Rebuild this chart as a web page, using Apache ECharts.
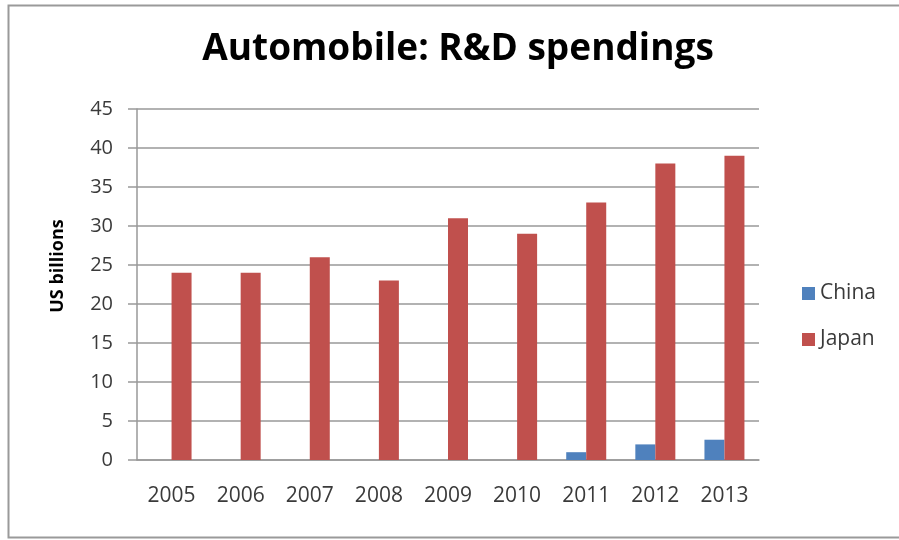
<!DOCTYPE html>
<html>
<head>
<meta charset="utf-8">
<script src="https://cdn.jsdelivr.net/npm/echarts@6/dist/echarts.min.js"></script>
<style>
  html, body { margin: 0; padding: 0; background: #fff; }
  #chart { width: 899px; height: 540px; }
</style>
</head>
<body>
<div id="chart"></div>
<script>
// Automobile R&D spending, US billions
const years = ['2005', '2006', '2007', '2008', '2009', '2010', '2011', '2012', '2013'];
const china = [0, 0, 0, 0, 0, 0, 1, 2, 2.6];
const japan = [24, 24, 26, 23, 31, 29, 33, 38, 39];
const yTicks = { min: 0, max: 45, step: 5 };

const font = 'Open Sans';
const labelColor = '#3a3a3a';
const chart = echarts.init(document.getElementById('chart'));

chart.setOption({
  animation: false,
  backgroundColor: '#fff',
  title: {
    text: 'Automobile: R&D spendings',
    left: 453,
    textAlign: 'center',
    top: 26,
    textStyle: { fontFamily: font, fontSize: 37, fontWeight: 'bold', color: '#000' }
  },
  grid: { left: 137, top: 109, width: 622, height: 351 },
  legend: {
    orient: 'vertical',
    left: 797,
    top: 278,
    itemWidth: 13,
    itemHeight: 13,
    itemGap: 25,
    icon: 'rect',
    textStyle: { fontFamily: font, fontSize: 21, color: labelColor },
    data: ['China', 'Japan']
  },
  xAxis: {
    type: 'category',
    data: years,
    axisLine: { lineStyle: { color: '#999', width: 1.5 } },
    axisTick: { show: false },
    axisLabel: { fontFamily: font, fontSize: 21, color: labelColor, margin: 26 }
  },
  yAxis: {
    type: 'value',
    min: yTicks.min,
    max: yTicks.max,
    interval: yTicks.step,
    axisLine: { show: true, lineStyle: { color: '#999', width: 1.5 } },
    axisTick: { show: true, length: 9, lineStyle: { color: '#999', width: 1.5 } },
    splitLine: { lineStyle: { color: '#999', width: 1.5 } },
    axisLabel: { fontFamily: font, fontSize: 20, color: labelColor, margin: 24 }
  },
  graphic: [
    {
      type: 'rect',
      shape: { x: 8.5, y: 5.5, width: 900, height: 532 },
      style: { fill: 'none', stroke: '#9a9a9a', lineWidth: 2 },
      silent: true
    },
    {
      type: 'text',
      x: 58,
      y: 266,
      rotation: Math.PI / 2,
      style: {
        text: 'US billions',
        fontFamily: font,
        fontSize: 18,
        fontWeight: 'bold',
        fill: '#000',
        textAlign: 'center',
        textVerticalAlign: 'middle'
      }
    }
  ],
  series: [
    {
      name: 'China',
      type: 'bar',
      data: china,
      barWidth: 20,
      barGap: '0%',
      itemStyle: { color: '#4F81BD' }
    },
    {
      name: 'Japan',
      type: 'bar',
      data: japan,
      barWidth: 20,
      barGap: '0%',
      itemStyle: { color: '#C0504D' }
    }
  ]
});
</script>
</body>
</html>
